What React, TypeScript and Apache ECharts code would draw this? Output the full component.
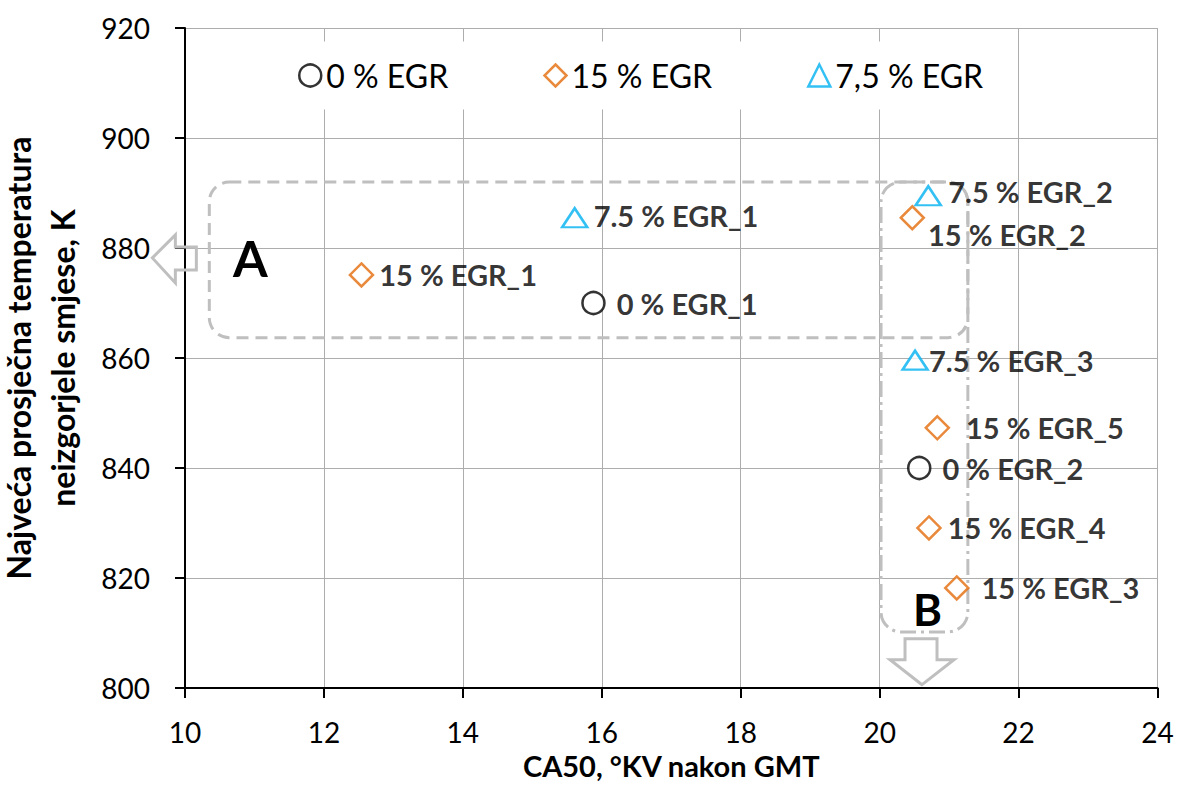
import React, { useEffect, useRef } from 'react';
import * as echarts from 'echarts';

// ---- data ----
const seriesNames = ['0 % EGR', '15 % EGR', '7,5 % EGR'];

const egr0X = [15.88, 20.57];
const egr0Y = [870.0, 840.0];
const egr0Labels = ['0 % EGR_1', '0 % EGR_2'];

const egr15X = [12.54, 20.47, 21.11, 20.71, 20.83];
const egr15Y = [875.1, 885.5, 818.2, 829.1, 847.3];
const egr15Labels = ['15 % EGR_1', '15 % EGR_2', '15 % EGR_3', '15 % EGR_4', '15 % EGR_5'];

const egr75X = [15.61, 20.7, 20.51];
const egr75Y = [885.5, 889.5, 859.6];
const egr75Labels = ['7.5 % EGR_1', '7.5 % EGR_2', '7.5 % EGR_3'];

const xAxisMin = 10;
const xAxisMax = 24;
const xAxisStep = 2;
const yAxisMin = 800;
const yAxisMax = 920;
const yAxisStep = 20;

const xTitle = 'CA50, °KV nakon GMT';
const yTitle = 'Najveća prosječna temperatura\nneizgorjele smjese, K';

// annotation regions in data coordinates
const regionA = { x1: 10.35, y1: 892.0, x2: 21.27, y2: 863.7 };
const regionB = { x1: 20.02, y1: 892.0, x2: 21.27, y2: 810.2 };
const letterA = { text: 'A', x: 10.94, y: 878.2 };
const letterB = { text: 'B', x: 20.69, y: 814.4 };
const arrowATip = [9.53, 878.2];
const arrowBTip = [20.61, 800.6];

// ---- styles ----
const FONT = 'Lato';
const C_BLACK = '#000000';
const C_ORANGE = '#E46C0A';
const C_BLUE = '#00B0F0';
const C_ANN = '#BFBFBF';

const offsets0 = [[11, 0], [11, 0]];
const offsets15 = [[5, 0], [3, 17], [12, 0], [6, 0], [16, 0]];
const offsets75 = [[5, -2], [6, -4], [0, 0]];

function buildData(xs: number[], ys: number[], labels: string[], offs: number[][]) {
  return xs.map((x, i) => ({
    value: [x, ys[i]],
    name: labels[i],
    label: { offset: offs[i] },
  }));
}

const labelStyle = {
  show: true,
  position: 'right',
  distance: 0,
  formatter: (p: any) => p.name,
  fontFamily: FONT,
  fontWeight: 'bold',
  fontSize: 29,
  color: C_BLACK,
};

export default function App() {
  const ref = useRef<HTMLDivElement>(null);

  useEffect(() => {
    if (!ref.current) return;
    const chart = echarts.init(ref.current, null, { renderer: 'svg' });
    const option: any = {
      animation: false,
      backgroundColor: '#ffffff',
      textStyle: { fontFamily: FONT },
      grid: { left: 185, right: 21.5, top: 28, bottom: 97, containLabel: false, outerBoundsMode: 'none' },
      legend: {
        left: 268,
        top: 41.5,
        padding: [18, 30],
        backgroundColor: '#ffffff',
        itemWidth: 22,
        itemHeight: 22,
        itemGap: 95,
        textStyle: { fontFamily: FONT, fontSize: 32, color: C_BLACK },
        data: [
          { name: seriesNames[0], icon: 'circle', itemStyle: { color: '#fff', borderColor: C_BLACK, borderWidth: 2.5 } },
          { name: seriesNames[1], icon: 'diamond', itemStyle: { color: '#fff', borderColor: C_ORANGE, borderWidth: 2.5 } },
          { name: seriesNames[2], icon: 'triangle', itemStyle: { color: '#fff', borderColor: C_BLUE, borderWidth: 2.5 } },
        ],
      },
      xAxis: {
        type: 'value',
        min: xAxisMin,
        max: xAxisMax,
        interval: xAxisStep,
        name: xTitle,
        nameLocation: 'middle',
        nameGap: 57,
        nameTextStyle: { fontFamily: FONT, fontWeight: 'bold', fontSize: 29, lineHeight: 30, color: C_BLACK },
        axisLine: { show: true, onZero: false, lineStyle: { color: C_BLACK, width: 2 } },
        axisTick: { show: true, length: 10, inside: false, lineStyle: { color: C_BLACK, width: 2 } },
        axisLabel: { fontFamily: FONT, fontSize: 28, color: C_BLACK, margin: 30 },
        splitLine: { show: true, lineStyle: { color: '#ADADAD', width: 1 } },
      },
      yAxis: {
        type: 'value',
        min: yAxisMin,
        max: yAxisMax,
        interval: yAxisStep,
        name: yTitle,
        nameLocation: 'middle',
        nameGap: 101,
        nameTextStyle: { fontFamily: FONT, fontWeight: 'bold', fontSize: 32, lineHeight: 44, color: C_BLACK },
        axisLine: { show: true, onZero: false, lineStyle: { color: C_BLACK, width: 2 } },
        axisTick: { show: true, length: 10, inside: false, lineStyle: { color: C_BLACK, width: 2 } },
        axisLabel: { fontFamily: FONT, fontSize: 28, color: C_BLACK, margin: 35 },
        splitLine: { show: true, lineStyle: { color: '#ADADAD', width: 1 } },
      },
      series: [
        {
          name: seriesNames[0],
          type: 'scatter',
          symbol: 'circle',
          symbolSize: 22,
          itemStyle: { color: '#fff', borderColor: C_BLACK, borderWidth: 2.5 },
          label: labelStyle,
          data: buildData(egr0X, egr0Y, egr0Labels, offsets0),
          z: 5,
        },
        {
          name: seriesNames[1],
          type: 'scatter',
          symbol: 'diamond',
          symbolSize: 23,
          itemStyle: { color: '#fff', borderColor: C_ORANGE, borderWidth: 2.5 },
          label: labelStyle,
          data: buildData(egr15X, egr15Y, egr15Labels, offsets15),
          z: 5,
        },
        {
          name: seriesNames[2],
          type: 'scatter',
          symbol: 'triangle',
          symbolSize: [25, 19],
          itemStyle: { color: '#fff', borderColor: C_BLUE, borderWidth: 2.5 },
          label: labelStyle,
          data: buildData(egr75X, egr75Y, egr75Labels, offsets75),
          z: 5,
        },
      ],
    };
    chart.setOption(option);

    const px = (x: number, y: number) => chart.convertToPixel({ gridIndex: 0 } as any, [x, y]) as number[];
    const rectFrom = (r: { x1: number; y1: number; x2: number; y2: number }) => {
      const a = px(r.x1, r.y1);
      const b = px(r.x2, r.y2);
      return { x: a[0], y: a[1], width: b[0] - a[0], height: b[1] - a[1], r: 20 };
    };
    const ta = px(arrowATip[0], arrowATip[1]);
    const tb = px(arrowBTip[0], arrowBTip[1]);
    const la = px(letterA.x, letterA.y);
    const lb = px(letterB.x, letterB.y);

    const arrowLeftPts = [
      [0, 0], [23, -23], [23, -11], [44, -11], [44, 12], [23, 12], [23, 25],
    ].map((p) => [ta[0] + p[0], ta[1] + p[1]]);
    const arrowDownPts = [
      [0, 0], [-32, -25], [-17, -25], [-17, -46], [15, -46], [15, -25], [32, -25],
    ].map((p) => [tb[0] + p[0], tb[1] + p[1]]);

    chart.setOption({
      graphic: [
        {
          type: 'rect', z: 3, silent: true,
          shape: rectFrom(regionA),
          style: { fill: 'none', stroke: C_ANN, lineWidth: 3, lineDash: [12, 7] },
        },
        {
          type: 'rect', z: 3, silent: true,
          shape: rectFrom(regionB),
          style: { fill: 'none', stroke: C_ANN, lineWidth: 3, lineDash: [16, 5, 3, 5] },
        },
        {
          type: 'polygon', z: 3, silent: true,
          shape: { points: arrowLeftPts },
          style: { fill: 'none', stroke: C_ANN, lineWidth: 3 },
        },
        {
          type: 'polygon', z: 3, silent: true,
          shape: { points: arrowDownPts },
          style: { fill: 'none', stroke: C_ANN, lineWidth: 3 },
        },
        {
          type: 'text', z: 6, silent: true, x: la[0], y: la[1],
          style: { text: letterA.text, fontFamily: FONT, fontWeight: 'bold', fontSize: 50, fill: C_BLACK, align: 'center', verticalAlign: 'middle' },
        },
        {
          type: 'text', z: 6, silent: true, x: lb[0], y: lb[1],
          style: { text: letterB.text, fontFamily: FONT, fontWeight: 'bold', fontSize: 44, fill: C_BLACK, align: 'center', verticalAlign: 'middle' },
        },
      ],
    });

    return () => chart.dispose();
  }, []);

  return (
    <div
      ref={ref}
      style={{ position: 'fixed', left: 0, top: 0, width: 1179, height: 785, background: '#fff' }}
    />
  );
}
